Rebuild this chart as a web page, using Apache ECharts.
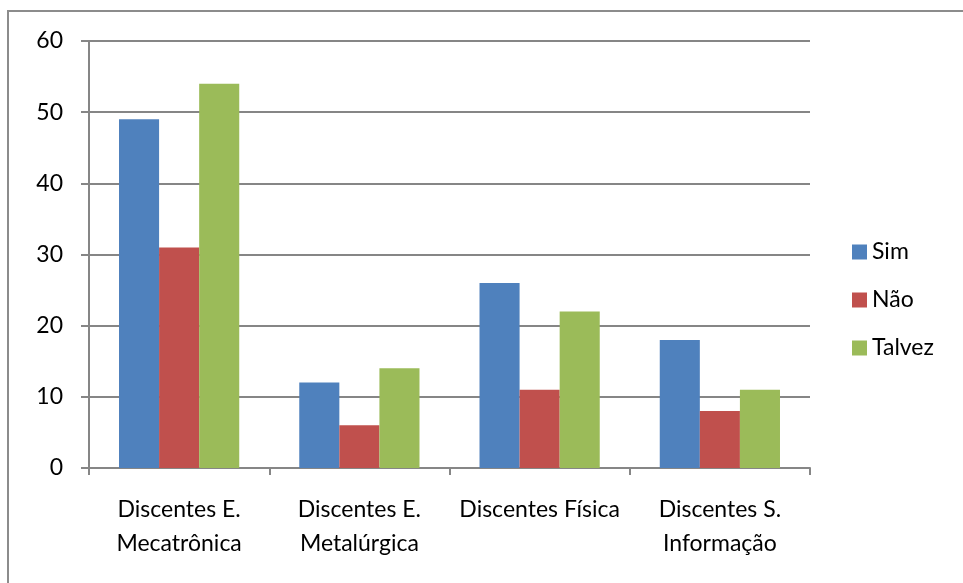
<!DOCTYPE html>
<html><head><meta charset="utf-8">
<script src="https://cdn.jsdelivr.net/npm/echarts@6/dist/echarts.min.js"></script>
<style>
html,body{margin:0;padding:0;background:#fff;}
#frame{position:absolute;left:7px;top:10px;width:1000px;height:600px;border:2px solid #8c8c8c;box-sizing:border-box;}
#c{position:absolute;left:0;top:0;width:963px;height:583px;}
</style></head>
<body>
<div id="frame"></div>
<div id="c"></div>
<script>
const categories = ['Discentes E.\nMecatrônica', 'Discentes E.\nMetalúrgica', 'Discentes Física', 'Discentes S.\nInformação'];
const sim = [49, 12, 26, 18];
const nao = [31, 6, 11, 8];
const talvez = [54, 14, 22, 11];
const seriesNames = ['Sim', 'Não', 'Talvez'];
const colors = ['#4F81BD', '#C0504D', '#9BBB59'];

const chart = echarts.init(document.getElementById('c'), null, {renderer: 'canvas'});
const font = 'Lato, "Open Sans", sans-serif';
const gray = '#868686';
chart.setOption({
  animation: false,
  color: colors,
  textStyle: {fontFamily: font},
  grid: {left: 89, top: 41, right: 153, bottom: 115, containLabel: false},
  legend: {
    orient: 'vertical', left: 852, top: 240, itemWidth: 15, itemHeight: 15, itemGap: 24,
    icon: 'rect', padding: 0,
    textStyle: {fontSize: 23, lineHeight: 24, color: '#000', fontFamily: font},
    data: seriesNames
  },
  xAxis: {
    type: 'category', data: categories,
    axisLine: {lineStyle: {color: gray, width: 2}},
    axisTick: {show: true, length: 7, lineStyle: {color: gray, width: 2}},
    axisLabel: {fontSize: 23, color: '#000', margin: 25, lineHeight: 34, fontFamily: font, interval: 0}
  },
  yAxis: {
    type: 'value', min: 0, max: 60, interval: 10,
    axisLine: {show: true, lineStyle: {color: gray, width: 2}},
    axisTick: {show: true, length: 8, lineStyle: {color: gray, width: 2}},
    splitLine: {lineStyle: {color: gray, width: 2}},
    axisLabel: {fontSize: 23, color: '#000', margin: 26, fontFamily: font}
  },
  series: [
    {name: seriesNames[0], type: 'bar', data: sim, barGap: '0%', barCategoryGap: '33.3%'},
    {name: seriesNames[1], type: 'bar', data: nao, barGap: '0%', barCategoryGap: '33.3%'},
    {name: seriesNames[2], type: 'bar', data: talvez, barGap: '0%', barCategoryGap: '33.3%'}
  ]
});
</script>
</body></html>
